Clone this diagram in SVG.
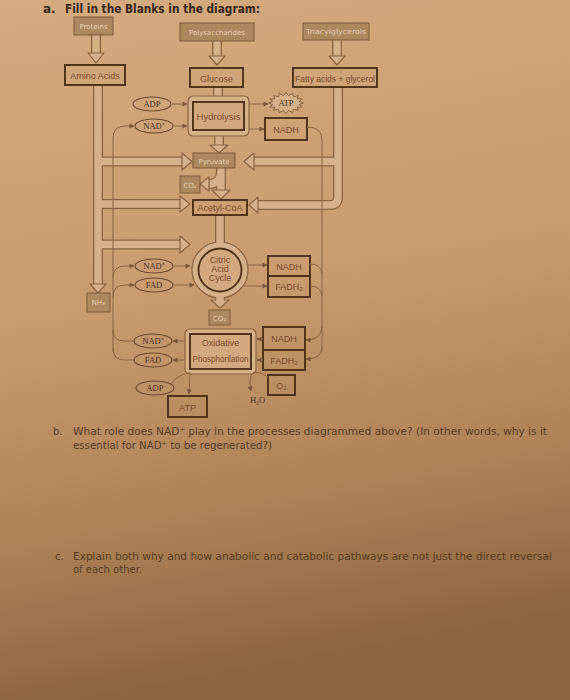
<svg xmlns="http://www.w3.org/2000/svg" width="570" height="700" viewBox="0 0 570 700">
<defs>
<linearGradient id="paper" x1="0" y1="0" x2="0.15" y2="1">
<stop offset="0" stop-color="#d3ab7e"/>
<stop offset="0.45" stop-color="#c89c6e"/>
<stop offset="0.75" stop-color="#ae8457"/>
<stop offset="1" stop-color="#8e6542"/>
</linearGradient>
<marker id="ah" viewBox="0 0 6 6" refX="5.5" refY="3" markerWidth="5" markerHeight="5" markerUnits="userSpaceOnUse" orient="auto">
<path d="M0,0 L6,3 L0,6 z" fill="#7a5636"/>
</marker>
<style>
.pO{stroke:#8a6440;stroke-width:10;fill:none;stroke-linejoin:round}
.pI{stroke:#d6b088;stroke-width:7.4;fill:none;stroke-linejoin:round}
.hd{fill:#d6b088;stroke:#8a6440;stroke-width:1.2;stroke-linejoin:round}
.sh{fill:#ad875e;stroke:#7d5a38;stroke-width:1}
.pt{font-family:"DejaVu Sans",sans-serif;font-size:7px;fill:#e6cfb2;text-anchor:middle}
.hb{fill:none;stroke:#4e3018;stroke-width:1.9}
.ht{font-family:"Liberation Sans",sans-serif;font-size:9px;fill:#7a4c2a;text-anchor:middle}
.el{fill:none;stroke:#6b4a2c;stroke-width:1.1}
.et{font-family:"Liberation Serif",serif;font-size:8.5px;fill:#4a3020;text-anchor:middle}
.tl{stroke:#8a6440;stroke-width:1;fill:none}
.ta{stroke:#8a6440;stroke-width:1;fill:none;marker-end:url(#ah)}
.q{font-family:"DejaVu Sans",sans-serif;font-size:10px;fill:#5a3c22}
</style>
</defs>
<rect width="570" height="700" fill="url(#paper)"/>

<text x="43" y="13" font-family="DejaVu Sans,sans-serif" font-weight="bold" font-size="12" fill="#3a2618">a.</text>
<text x="65" y="13" font-family="DejaVu Sans,sans-serif" font-weight="bold" font-size="12" fill="#3a2618" textLength="195" lengthAdjust="spacingAndGlyphs">Fill in the Blanks in the diagram:</text>

<g id="connectors">
<!-- pipe outlines -->
<path class="pO" d="M96,35 L96,53"/>
<path class="pO" d="M217,41 L217,56"/>
<path class="pO" d="M337,40 L337,56"/>
<path class="pO" d="M98,85 L98,285 M98,161.5 L183,161.5 M98,204 L181,204 M98,244.5 L181,244.5"/>
<path class="pO" d="M338,87 L338,197 Q338,205 330,205 L258,205 M338,161.5 L253,161.5"/>
<path class="pO" d="M218,86 L218,98"/>
<path class="pO" d="M219,135 L219,145"/>
<path class="pO" d="M221,168 L221,190 M221,171 Q221,184 209,184"/>
<path class="pO" d="M220,215 L220,244"/>
<path class="pO" d="M220,296 L220,301"/>
<!-- pipe interiors -->
<path class="pI" d="M96,34 L96,54"/>
<path class="pI" d="M217,40 L217,57"/>
<path class="pI" d="M337,39 L337,57"/>
<path class="pI" d="M98,86 L98,286 M98,161.5 L184,161.5 M98,204 L182,204 M98,244.5 L182,244.5"/>
<path class="pI" d="M338,88 L338,197 Q338,205 330,205 L257,205 M338,161.5 L252,161.5"/>
<path class="pI" d="M218,85 L218,99"/>
<path class="pI" d="M219,134 L219,146"/>
<path class="pI" d="M221,167 L221,191 M221,171 Q221,184 208,184"/>
<!-- heads -->
<polygon class="hd" points="88,53 104,53 96,63"/>
<polygon class="hd" points="209,56 225,56 217,65"/>
<polygon class="hd" points="329,56 345,56 337,65"/>
<polygon class="hd" points="90,284 106,284 98,293"/>
<polygon class="hd" points="182,153 192,161.5 182,170"/>
<polygon class="hd" points="180,196 190,204 180,212"/>
<polygon class="hd" points="180,236 190,244.5 180,253"/>
<polygon class="hd" points="254,153 244,161.5 254,170"/>
<polygon class="hd" points="258,197 249,205 258,213"/>
<polygon class="hd" points="210,145 228,145 219,153"/>
<polygon class="hd" points="212,190 230,190 221,199"/>
<polygon class="hd" points="209,177 200,184 209,191"/>
<polygon class="hd" points="211,300 229,300 220,308"/>
</g>

<g id="glycolysis">
<rect x="188" y="96" width="61" height="40" rx="5" fill="#d6b088" stroke="#8a6440" stroke-width="1.2"/>
<rect x="193" y="102" width="51" height="28" fill="#d2a97e" stroke="#4e3018" stroke-width="1.9"/>
<text class="ht" x="218.5" y="120" textLength="44" lengthAdjust="spacingAndGlyphs">Hydrolysis</text>
</g>

<g id="citric">
<circle cx="220" cy="270" r="28" fill="#d6b088" stroke="#8a6440" stroke-width="1.2"/>
<circle cx="220" cy="270" r="21.5" fill="#d2a97e" stroke="#4e3018" stroke-width="1.8"/>
<path d="M220,214 L220,246" stroke="#d6b088" stroke-width="7.4" fill="none"/>
<path d="M220,294 L220,302" stroke="#d6b088" stroke-width="7.4" fill="none"/>
<text class="ht" x="220" y="263" font-size="8">Citric</text>
<text class="ht" x="220" y="272" font-size="8">Acid</text>
<text class="ht" x="220" y="281" font-size="8">Cycle</text>
</g>

<g id="oxphos">
<rect x="185" y="329" width="71" height="45" rx="5" fill="#d6b088" stroke="#8a6440" stroke-width="1.2"/>
<rect x="190" y="334" width="61" height="35" fill="#d2a97e" stroke="#4e3018" stroke-width="1.9"/>
<text class="ht" x="220.5" y="346" font-size="8.5">Oxidative</text>
<text class="ht" x="220.5" y="362" font-size="8" textLength="56" lengthAdjust="spacingAndGlyphs">Phosphorilation</text>
</g>

<g id="proteins"><rect class="sh" x="74" y="17" width="39" height="18"/><text class="pt" x="93.5" y="28.5">Proteins</text></g>
<g id="polysaccharides"><rect class="sh" x="180" y="23" width="74" height="18"/><text class="pt" x="217" y="34.5">Polysaccharides</text></g>
<g id="triacylglycerols"><rect class="sh" x="303" y="23" width="66" height="17"/><text class="pt" x="336" y="34" textLength="60" lengthAdjust="spacingAndGlyphs">Triacylglycerols</text></g>

<g id="aminoacids"><rect class="hb" x="65" y="65" width="60" height="20" fill="#d2a97e"/><text class="ht" x="95" y="79">Amino Acids</text></g>
<g id="glucose"><rect class="hb" x="190" y="68" width="53" height="19" fill="#d2a97e"/><text class="ht" x="216.5" y="81.5">Glucose</text></g>
<g id="fattyacids"><rect class="hb" x="293" y="68" width="84" height="19" fill="#d2a97e"/><text class="ht" x="335" y="81.5" textLength="80" lengthAdjust="spacingAndGlyphs">Fatty acids + glycerol</text></g>

<g id="pyruvate"><rect class="sh" x="193" y="153" width="42" height="15"/><text class="pt" x="214" y="163.5">Pyruvate</text></g>
<g id="co2a"><rect class="sh" x="180" y="176" width="20" height="17"/><text class="pt" x="190" y="187.5">CO₂</text></g>
<g id="acetylcoa"><rect class="hb" x="193" y="200" width="54" height="15" fill="#d2a97e"/><text class="ht" x="220" y="211" font-size="8.5">Acetyl-CoA</text></g>
<g id="co2b"><rect class="sh" x="209" y="310" width="21" height="15"/><text class="pt" x="219.5" y="320.5">CO₂</text></g>
<g id="nh3"><rect class="sh" x="87" y="293" width="23" height="19"/><text class="pt" x="98.5" y="305">NH₃</text></g>

<g id="atp-star"><polygon points="303.5,103 299.2,104.5 302.2,107 297.2,107.2 298.4,110.4 293.5,109.2 292.7,112.7 288.6,110.4 286,113.5 283.4,110.4 279.3,112.7 278.5,109.2 273.6,110.4 274.8,107.2 269.8,107 272.8,104.5 268.5,103 272.8,101.5 269.8,99 274.8,98.8 273.6,95.6 278.5,96.8 279.3,93.3 283.4,95.6 286,92.5 288.6,95.6 292.7,93.3 293.5,96.8 298.4,95.6 297.2,98.8 302.2,99 299.2,101.5" fill="#d6b088" stroke="#8a6440" stroke-width="1"/><text class="et" x="286" y="106" font-size="8">ATP</text></g>
<g id="nadh1"><rect class="hb" x="265" y="118" width="42" height="22"/><text class="ht" x="286" y="133">NADH</text></g>
<g id="nadh2"><rect class="hb" x="268" y="256" width="42" height="20"/><text class="ht" x="289" y="270">NADH</text></g>
<g id="fadh2a"><rect class="hb" x="268" y="276" width="42" height="21"/><text class="ht" x="289" y="290">FADH₂</text></g>
<g id="nadh3"><rect class="hb" x="263" y="327" width="42" height="23"/><text class="ht" x="284" y="342">NADH</text></g>
<g id="fadh2b"><rect class="hb" x="263" y="350" width="42" height="20"/><text class="ht" x="284" y="363.5">FADH₂</text></g>
<g id="o2"><rect class="hb" x="268" y="375" width="27" height="20"/><text class="ht" x="281.5" y="389" font-size="10">O₂</text></g>
<g id="atpbox"><rect class="hb" x="168" y="396" width="39" height="21"/><text class="ht" x="187.5" y="411" font-size="10">ATP</text></g>
<g id="h2o"><text class="et" x="257.5" y="403" font-size="8">H₂O</text></g>

<g id="adp1"><ellipse class="el" cx="152" cy="104" rx="19" ry="7"/><text class="et" x="152" y="107">ADP</text></g>
<g id="nad1"><ellipse class="el" cx="154" cy="126" rx="19" ry="7"/><text class="et" x="154" y="129">NAD⁺</text></g>
<g id="nad2"><ellipse class="el" cx="154" cy="266" rx="19" ry="7"/><text class="et" x="154" y="269">NAD⁺</text></g>
<g id="fad1"><ellipse class="el" cx="154" cy="285" rx="19" ry="7"/><text class="et" x="154" y="288">FAD</text></g>
<g id="nad3"><ellipse class="el" cx="153" cy="341" rx="19" ry="7"/><text class="et" x="153" y="344">NAD⁺</text></g>
<g id="fad2"><ellipse class="el" cx="153" cy="360" rx="19" ry="7"/><text class="et" x="153" y="363">FAD</text></g>
<g id="adp2"><ellipse class="el" cx="155" cy="388" rx="19" ry="7"/><text class="et" x="155" y="391">ADP</text></g>

<g id="thin-connectors">
<path class="ta" d="M172,104 L187,104"/>
<path class="ta" d="M174,126 L187,126"/>
<path class="ta" d="M249,104 L268,104"/>
<path class="ta" d="M249,129 L264,129"/>
<path class="ta" d="M174,266 L190,266"/>
<path class="ta" d="M174,285 L194,285"/>
<path class="ta" d="M248,265 L267,265"/>
<path class="ta" d="M244,286 L267,286"/>
<path class="ta" d="M185,341 L173,341"/>
<path class="ta" d="M185,360 L173,360"/>
<path class="ta" d="M263,339 L257,339"/>
<path class="ta" d="M263,360 L257,360"/>
<path class="tl" d="M307,127 Q322,127 322,140 L322,352"/>
<path class="ta" d="M322,326 Q322,340 306,340"/>
<path class="ta" d="M322,347 Q322,359 306,359"/>
<path class="tl" d="M310,264 Q321,264 322,274"/>
<path class="tl" d="M310,286 Q321,286 322,296"/>
<path class="ta" d="M113,352 L113,138 Q113,126 125,126 L134,126"/>
<path class="ta" d="M113,278 Q113,266 125,266 L134,266"/>
<path class="ta" d="M113,297 Q113,285 125,285 L134,285"/>
<path class="tl" d="M134,341 L124,341 Q113,341 113,330"/>
<path class="tl" d="M134,360 L124,360 Q113,360 113,348"/>
<path class="tl" d="M171,384 Q178,374 190,373"/>
<path class="ta" d="M190,372 L189,394"/>
<path class="ta" d="M268,377 Q257,369 251,375 Q249,382 251,391"/>
</g>

<text class="q" x="53" y="435">b.</text>
<text class="q" x="73" y="435" textLength="474" lengthAdjust="spacingAndGlyphs">What role does NAD⁺ play in the processes diagrammed above? (In other words, why is it</text>
<text class="q" x="73" y="449" textLength="199" lengthAdjust="spacingAndGlyphs">essential for NAD⁺ to be regenerated?)</text>
<text class="q" x="55" y="560" fill="#5e4024">c.</text>
<text class="q" x="73" y="560" textLength="479" lengthAdjust="spacingAndGlyphs" fill="#5e4024">Explain both why and how anabolic and catabolic pathways are not just the direct reversal</text>
<text class="q" x="73" y="573" textLength="69" lengthAdjust="spacingAndGlyphs" fill="#5e4024">of each other.</text>
</svg>
